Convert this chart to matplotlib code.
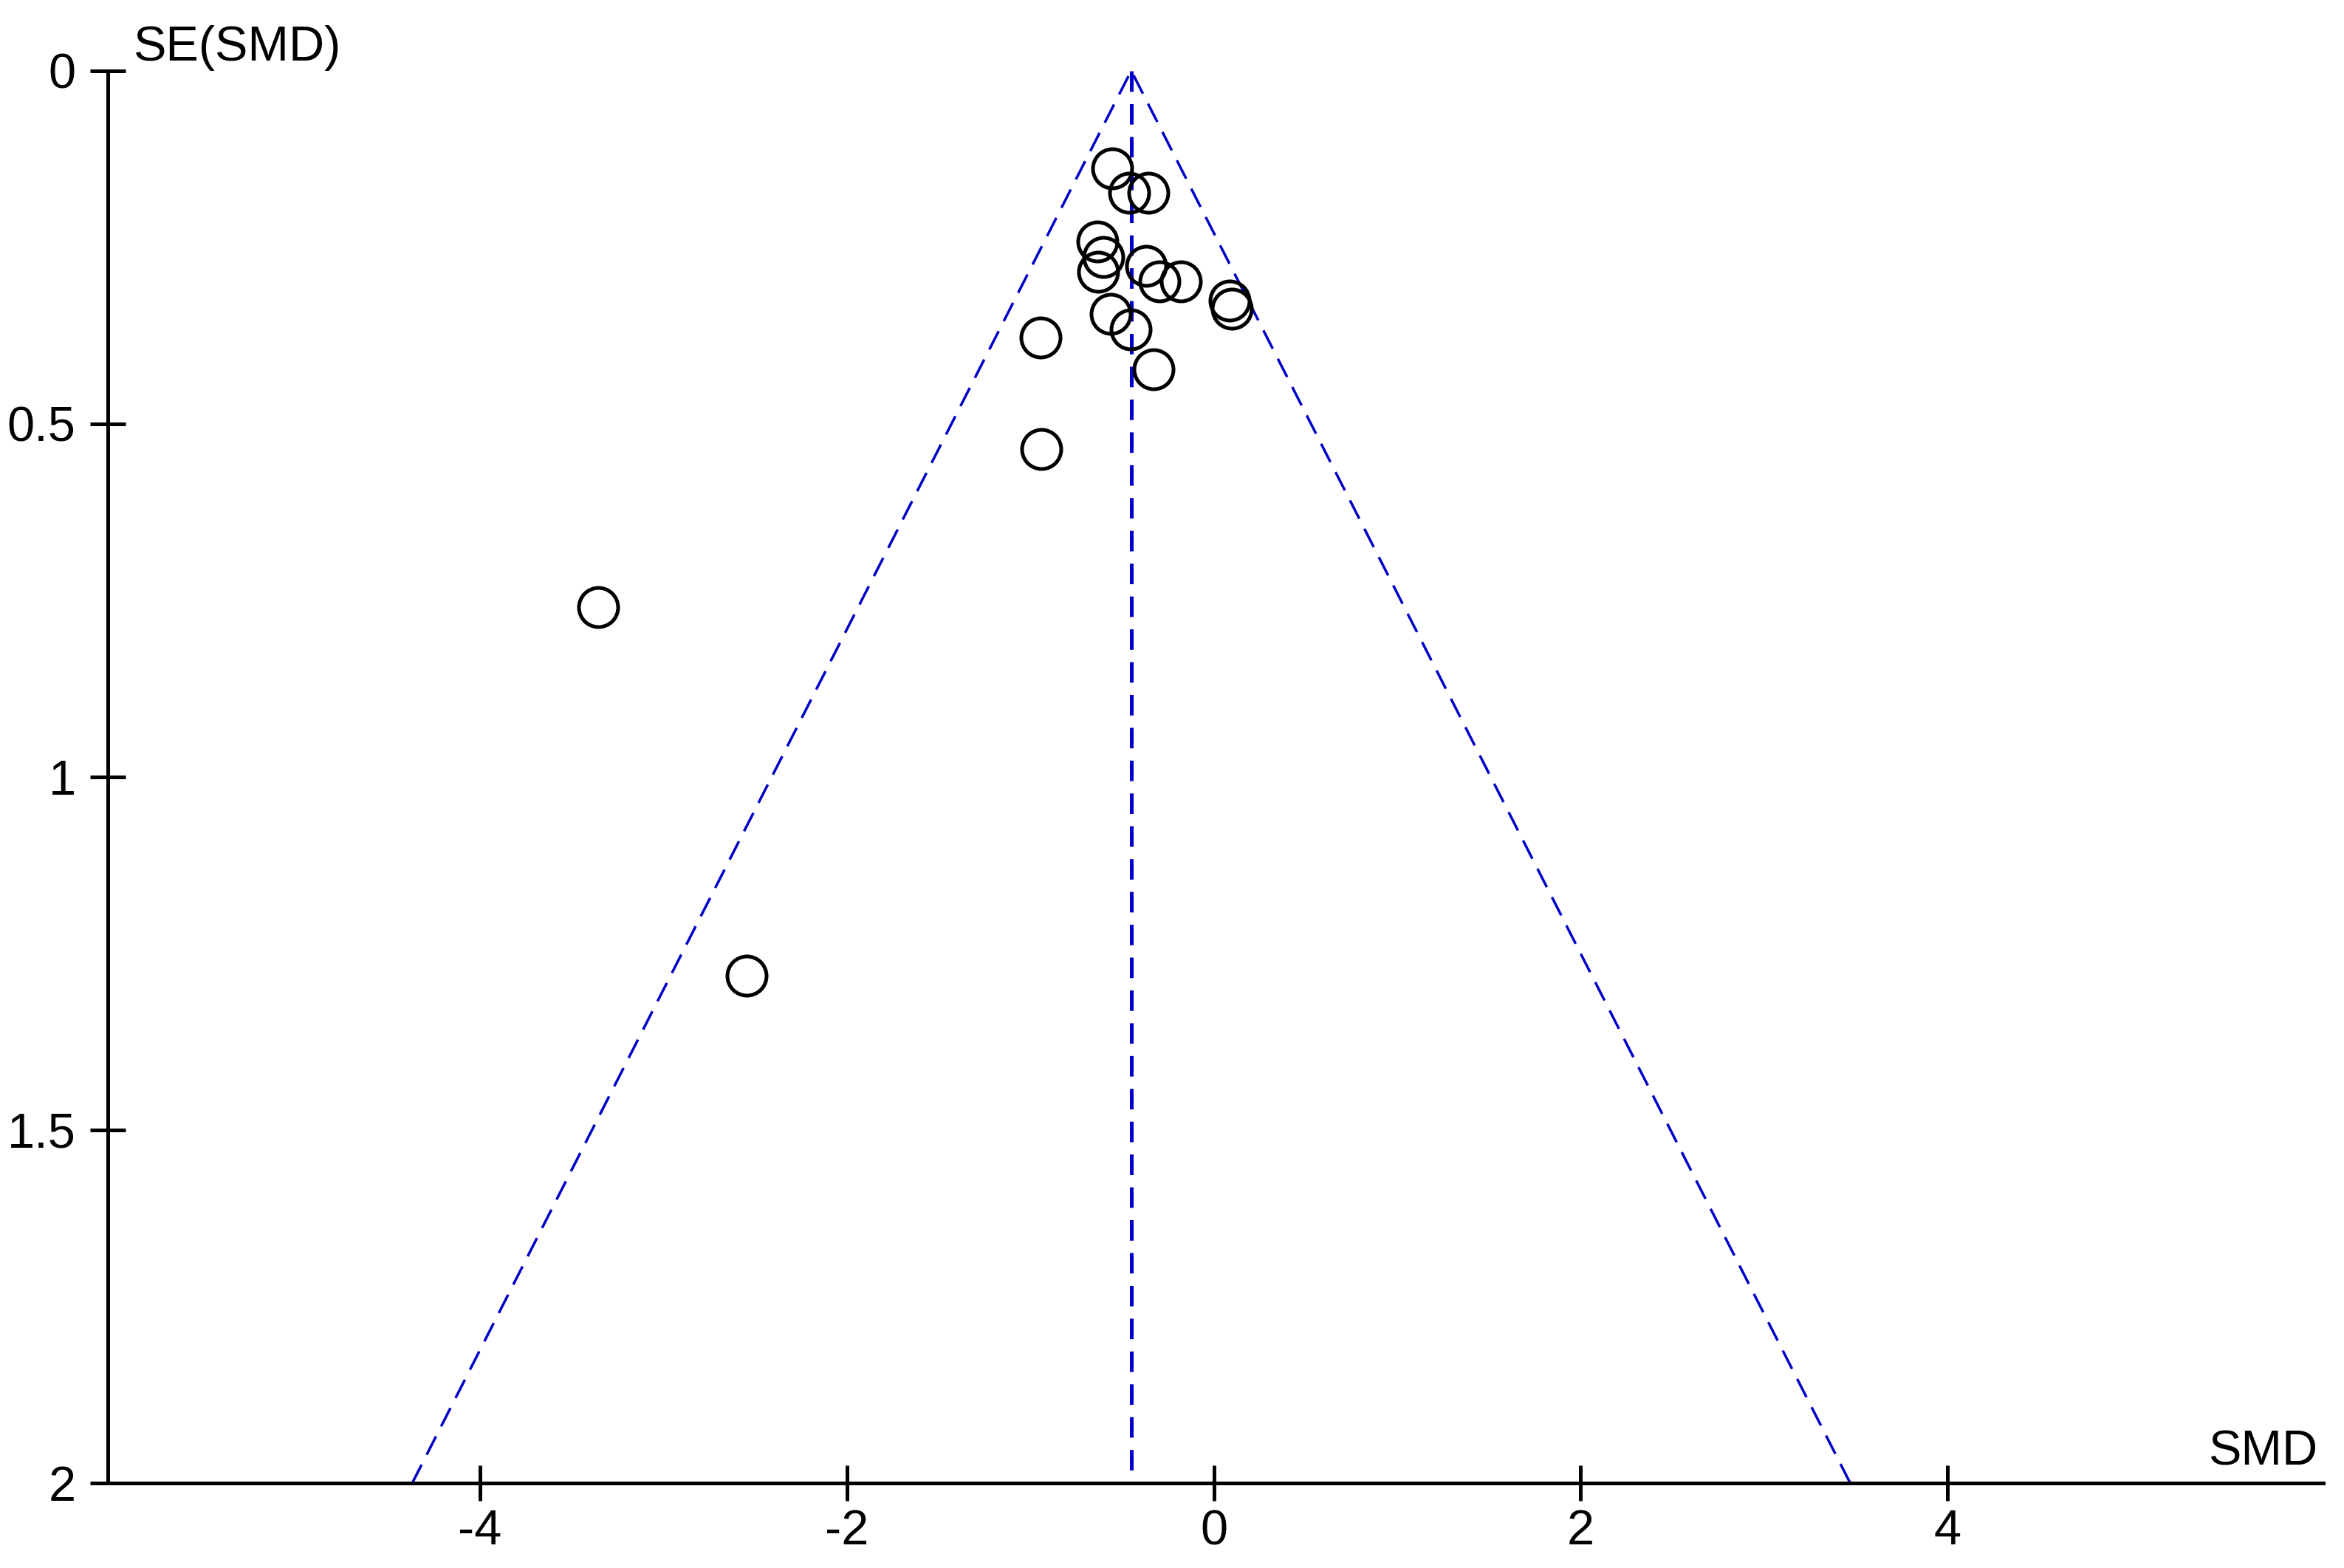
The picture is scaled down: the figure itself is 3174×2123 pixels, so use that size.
import matplotlib.pyplot as plt

# study estimates
smd = [-0.553, -0.462, -0.357, -0.634, -0.603, -0.630, -0.367, -0.297, -0.179,
       0.086, 0.100, -0.562, -0.455, -0.945, -0.330, -0.940, -3.355, -2.547]
se = [0.138, 0.173, 0.173, 0.242, 0.264, 0.285, 0.276, 0.298, 0.298,
      0.326, 0.337, 0.344, 0.366, 0.378, 0.423, 0.536, 0.760, 1.282]
pooled_smd = -0.45
se_max = 2.0
x_ticks = [-4, -2, 0, 2, 4]
y_ticks = [0, 0.5, 1, 1.5, 2]
y_tick_labels = ['0', '0.5', '1', '1.5', '2']

PX = 0.72  # points per pixel at dpi 100
blue = '#0000C8'

plt.rcParams['lines.scale_dashes'] = False
plt.rcParams['font.family'] = ['Liberation Sans', 'DejaVu Sans']

fig = plt.figure(figsize=(31.74, 21.23), dpi=100)
ax = fig.add_axes([0.046, 0.0542, 0.9452, 0.9007])

# funnel (95% limits) and pooled estimate
lo = pooled_smd - 1.96 * se_max
hi = pooled_smd + 1.96 * se_max
ax.plot([lo, pooled_smd, hi], [se_max, 0, se_max], color=blue, lw=3.5 * PX,
        dashes=(20, 11), clip_on=False)
ax.plot([pooled_smd, pooled_smd], [0, se_max], color=blue, lw=5 * PX,
        dashes=(20, 12), clip_on=False)

ax.plot(smd, se, 'o', mfc='none', mec='black', ms=53 * PX, mew=5 * PX,
        clip_on=False, zorder=3)

ax.set_xlim(-6.03, 6.05)
ax.set_ylim(2, 0)
ax.set_xticks(x_ticks)
ax.set_xticklabels([str(t) for t in x_ticks])
ax.set_yticks(y_ticks)
ax.set_yticklabels(y_tick_labels)

for side in ['top', 'right']:
    ax.spines[side].set_visible(False)
for side in ['left', 'bottom']:
    ax.spines[side].set_linewidth(5 * PX)
ax.spines['left'].set_bounds(0, 2)

ax.tick_params(axis='both', direction='inout', length=48 * PX, width=5 * PX,
               labelsize=48)
ax.tick_params(axis='y', pad=14)
ax.tick_params(axis='x', pad=8)

ax.annotate('SE(SMD)', xy=(0, 1), xycoords='axes fraction',
            xytext=(34 * PX, 14 * PX), textcoords='offset points',
            ha='left', va='baseline', fontsize=48)
ax.annotate('SMD', xy=(1, 0), xycoords='axes fraction',
            xytext=(-8 * PX, 24 * PX), textcoords='offset points',
            ha='right', va='baseline', fontsize=48)

fig.savefig('out.png', dpi=100)
